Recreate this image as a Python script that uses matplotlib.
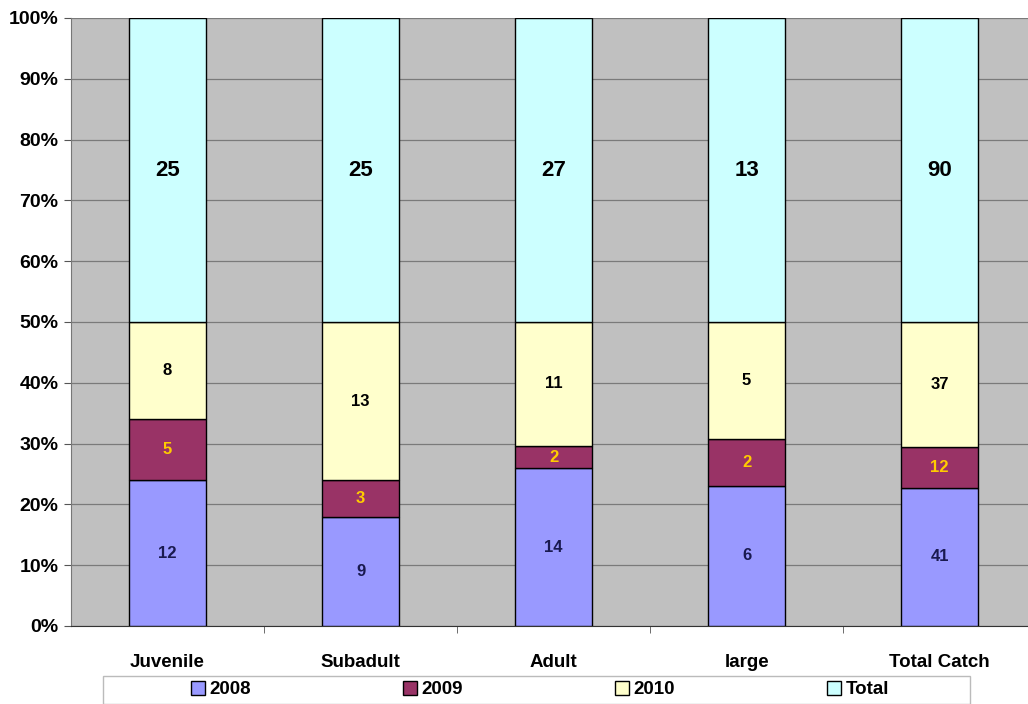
import matplotlib

matplotlib.use("Agg")
import matplotlib.pyplot as plt
import numpy as np
from matplotlib.patches import Rectangle
from matplotlib.ticker import FuncFormatter

plt.rcParams["font.family"] = ["Liberation Sans", "DejaVu Sans"]
plt.rcParams["font.weight"] = "bold"

categories = ["Juvenile", "Subadult", "Adult", "large", "Total Catch"]
series = ["2008", "2009", "2010", "Total"]
v2008 = [12, 9, 14, 6, 41]
v2009 = [5, 3, 2, 2, 12]
v2010 = [8, 13, 11, 5, 37]
vtotal = [25, 25, 27, 13, 90]

colors = ["#9999FF", "#993366", "#FFFFCC", "#CCFFFF"]
text_colors = ["#1a1a50", "#FFCC00", "black", "black"]
text_sizes = [12, 12, 12, 16]

W, H = 1028, 704
fig = plt.figure(figsize=(W / 100, H / 100), dpi=100)
ax = fig.add_axes([71 / W, 1 - 626 / H, 957 / W, 608 / H])
ax.set_facecolor("#C0C0C0")

data = np.array([v2008, v2009, v2010, vtotal], dtype=float)
pct = data / data.sum(axis=0) * 100
x = np.arange(len(categories))
bottom = np.zeros(len(categories))
for i, name in enumerate(series):
    ax.bar(x, pct[i], 0.4, bottom=bottom, color=colors[i], edgecolor="black",
           linewidth=1.0, label=name, zorder=3)
    for j in range(len(categories)):
        ax.text(x[j], bottom[j] + pct[i][j] / 2, str(int(data[i][j])), ha="center", va="center",
                color=text_colors[i], fontsize=text_sizes[i], fontweight="bold", zorder=4)
    bottom += pct[i]

ax.set_ylim(0, 100)
ax.set_xlim(-0.5, 4.458)
ax.set_yticks(np.arange(0, 101, 10))
ax.yaxis.set_major_formatter(FuncFormatter(lambda v, _: f"{v:.0f}%"))
ax.grid(axis="y", color="#7a7a7a", linewidth=0.9, zorder=0)
ax.set_xticks(x)
ax.set_xticklabels(categories, fontsize=13.5, fontweight="bold")
ax.set_xticks(np.arange(0.5, 4.5, 1), minor=True)
ax.tick_params(axis="x", which="major", length=0, pad=20)
ax.tick_params(axis="x", which="minor", length=5, color="#555555", direction="out")
ax.tick_params(axis="y", length=5, color="#555555", labelsize=14, pad=4)
for lab in ax.get_yticklabels():
    lab.set_fontweight("bold")
for s in ["top", "right"]:
    ax.spines[s].set_visible(False)
ax.spines["left"].set_color("#777777")
ax.spines["bottom"].set_color("#333333")

# legend box drawn separately so entries can sit centred in wide columns
fig.patches.append(Rectangle((103 / W, 0.5 / H), 867 / W, 28 / H, transform=fig.transFigure,
                             facecolor="white", edgecolor="#BBBBBB", linewidth=1.0))
handles, labels = ax.get_legend_handles_labels()
fig.legend(handles, labels, loc="center", bbox_to_anchor=(540 / W, 14.5 / H), ncol=4,
           frameon=False, fontsize=13.5, handlelength=0.75, handleheight=0.75, handletextpad=0.25,
           columnspacing=8.1, borderpad=0.1)

fig.savefig("out.png", dpi=100)
